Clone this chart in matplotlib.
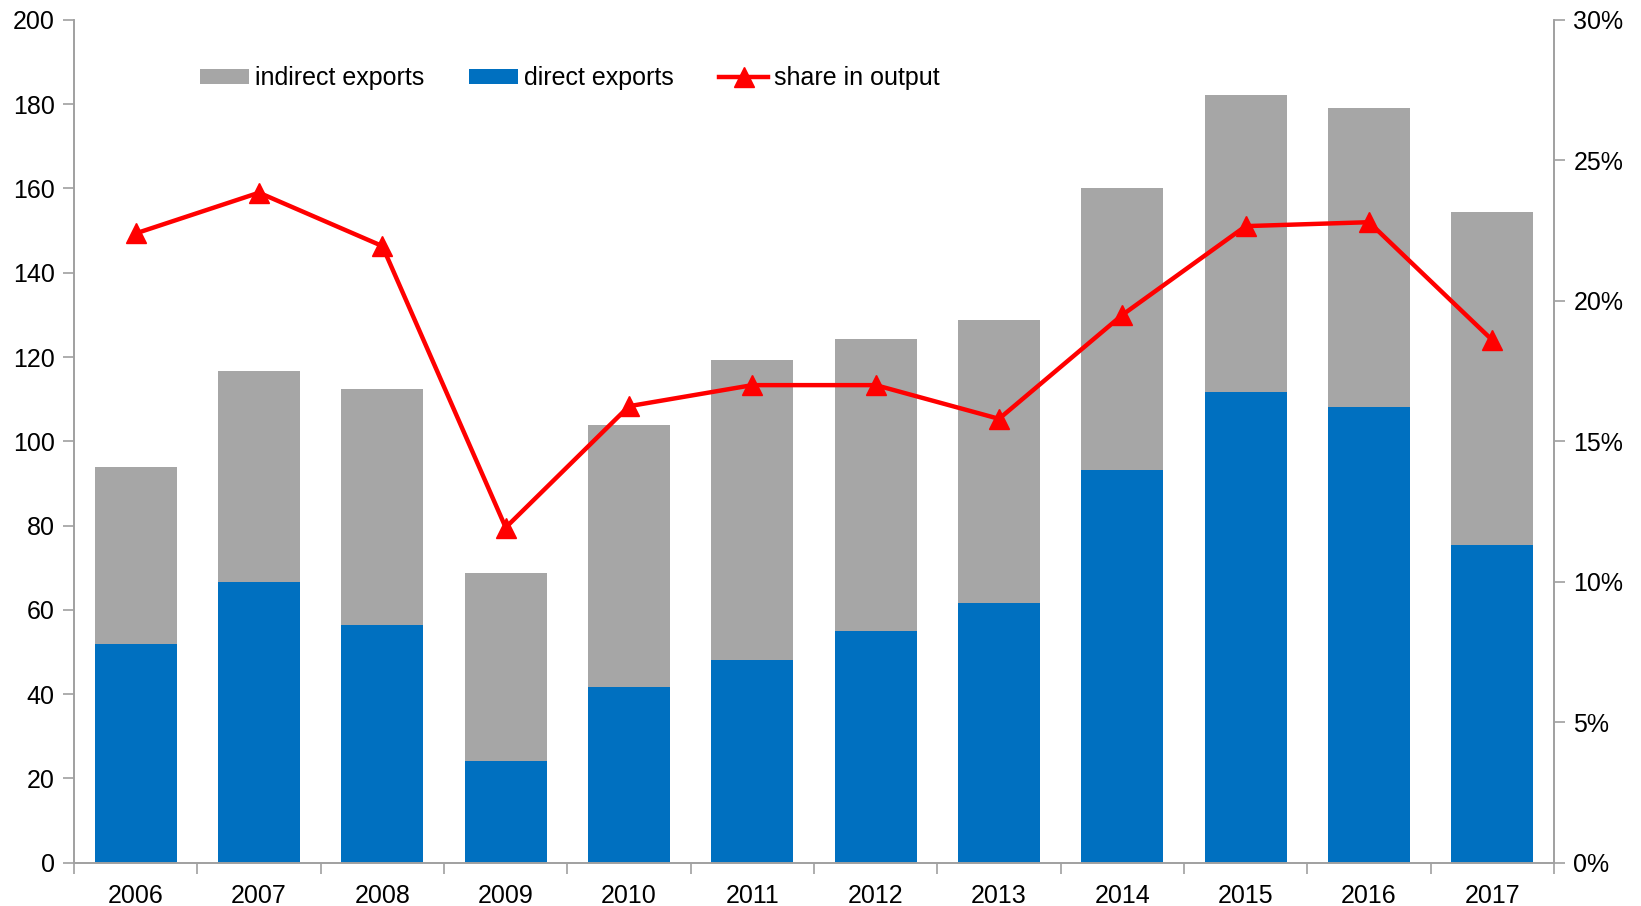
import matplotlib
matplotlib.use('Agg')
import matplotlib.pyplot as plt
import matplotlib.ticker as ticker
from matplotlib.lines import Line2D
from matplotlib.patches import Patch

plt.rcParams['font.family'] = ['Liberation Sans', 'DejaVu Sans']

years = ['2006', '2007', '2008', '2009', '2010', '2011',
         '2012', '2013', '2014', '2015', '2016', '2017']
total_exports = [93.9, 116.8, 112.5, 68.8, 103.9, 119.3,
                 124.2, 128.9, 160.2, 182.1, 179.1, 154.5]
direct_exports = [51.9, 66.6, 56.4, 24.1, 41.7, 48.2,
                  54.9, 61.6, 93.2, 111.6, 108.1, 75.5]
indirect_exports = [t - d for t, d in zip(total_exports, direct_exports)]
share_in_output = [0.224, 0.2385, 0.2195, 0.1193, 0.1625, 0.170,
                   0.170, 0.158, 0.195, 0.2266, 0.228, 0.186]

GREY = '#a6a6a6'
BLUE = '#0070c0'
RED = '#ff0000'
AXIS = '#a0a0a0'
FS = 18

fig = plt.figure(figsize=(16.41, 9.06), dpi=100)
ax1 = fig.add_axes([0.0451, 0.0478, 0.9019, 0.9302])

x = list(range(len(years)))
ax1.bar(x, direct_exports, width=0.667, color=BLUE, zorder=2)
ax1.bar(x, indirect_exports, width=0.667, bottom=direct_exports, color=GREY, zorder=2)

ax1.set_xlim(-0.5, len(years) - 0.5)
ax1.set_ylim(0, 200)
ax1.yaxis.set_major_locator(ticker.MultipleLocator(20))

# year labels centred, tick marks on category boundaries
ax1.set_xticks(x)
ax1.set_xticklabels(years, fontsize=FS)
ax1.set_xticks([i - 0.5 for i in range(len(years) + 1)], minor=True)
ax1.tick_params(axis='x', which='major', length=0, pad=15)
ax1.tick_params(axis='x', which='minor', length=8, color=AXIS, width=1.2)
ax1.tick_params(axis='y', length=8, color=AXIS, width=1.2, labelsize=FS, pad=6)

ax1.spines['top'].set_visible(False)
for side in ['left', 'right', 'bottom']:
    ax1.spines[side].set_color(AXIS)
    ax1.spines[side].set_linewidth(1.2)

ax2 = ax1.twinx()
ax2.plot(x, share_in_output, color=RED, linewidth=3.2, marker='^',
         markersize=14, zorder=3)
ax2.set_ylim(0, 0.30)
ax2.yaxis.set_major_locator(ticker.MultipleLocator(0.05))
ax2.yaxis.set_major_formatter(ticker.PercentFormatter(1.0, decimals=0))
ax2.tick_params(axis='y', length=8, color=AXIS, width=1.2, labelsize=FS, pad=6)
ax2.spines['top'].set_visible(False)
for side in ['left', 'right', 'bottom']:
    ax2.spines[side].set_color(AXIS)
    ax2.spines[side].set_linewidth(1.2)

handles = [
    Patch(facecolor=GREY),
    Patch(facecolor=BLUE),
    Line2D([0], [0], color=RED, linewidth=3.2, marker='^', markersize=14),
]
labels = ['indirect exports', 'direct exports', 'share in output']
fig.legend(handles, labels, loc='center left', bbox_to_anchor=(0.122, 0.914),
           ncol=3, frameon=False, fontsize=FS, handlelength=1.95,
           handleheight=0.55, handletextpad=0.25, columnspacing=1.8,
           borderpad=0, borderaxespad=0)

fig.savefig('out.png', dpi=100)
